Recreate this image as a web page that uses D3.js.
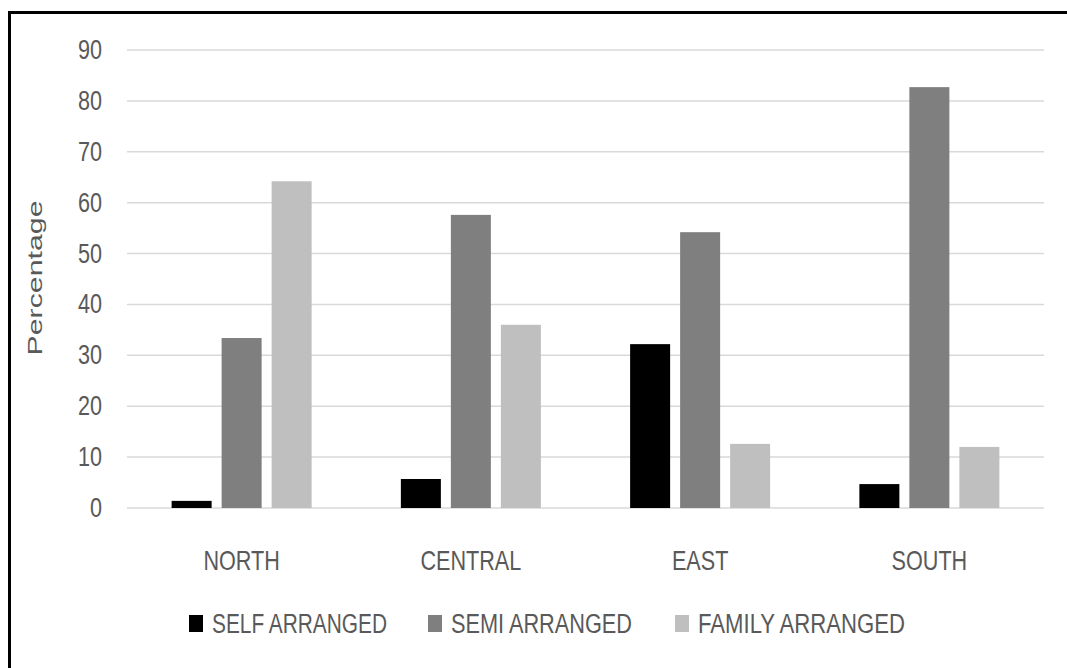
<!DOCTYPE html>
<html>
<head>
<meta charset="utf-8">
<script src="https://cdn.jsdelivr.net/npm/d3@7"></script>
<style>
  body { margin: 0; background: #fff; }
  text { font-family: "Liberation Sans", sans-serif; fill: #595959; }
</style>
</head>
<body>
<svg id="chart"></svg>
<script>
const width = 1067;
const height = 668;

const regions = ["NORTH", "CENTRAL", "EAST", "SOUTH"];
const seriesNames = ["SELF ARRANGED", "SEMI ARRANGED", "FAMILY ARRANGED"];
const selfArranged = [1.4, 5.7, 32.2, 4.7];
const semiArranged = [33.4, 57.6, 54.2, 82.7];
const familyArranged = [64.2, 36.0, 12.6, 12.0];
const yTicks = [0, 10, 20, 30, 40, 50, 60, 70, 80, 90];
const colors = ["#000000", "#7f7f7f", "#bfbfbf"];

const seriesValues = [selfArranged, semiArranged, familyArranged];

const plot = { left: 127, right: 1044, top: 50, bottom: 508 };
const squeeze = 0.8; // the reference text is narrow

const svg = d3.select("#chart").attr("width", width).attr("height", height);

// frame: only top and left edges show
svg.append("line")
  .attr("x1", 8).attr("x2", width)
  .attr("y1", 12.5).attr("y2", 12.5)
  .attr("stroke", "#000").attr("stroke-width", 3);
svg.append("line")
  .attr("x1", 9.5).attr("x2", 9.5)
  .attr("y1", 11).attr("y2", height)
  .attr("stroke", "#000").attr("stroke-width", 3);

const x0 = d3.scaleBand()
  .domain(regions)
  .range([plot.left, plot.right])
  .paddingInner(0.302)
  .paddingOuter(0.151);

const x1 = d3.scaleBand()
  .domain(seriesNames)
  .range([0, x0.bandwidth()])
  .padding(0.2);

const y = d3.scaleLinear().domain([0, 90]).range([plot.bottom, plot.top]);

// gridlines
svg.append("g")
  .selectAll("line")
  .data(yTicks)
  .join("line")
  .attr("x1", plot.left).attr("x2", plot.right)
  .attr("y1", (d) => y(d)).attr("y2", (d) => y(d))
  .attr("stroke", "#d9d9d9").attr("stroke-width", 1.5);

// y tick labels
svg.append("g")
  .selectAll("text")
  .data(yTicks)
  .join("text")
  .attr("transform", (d) => `translate(102,${y(d) + 9}) scale(${squeeze},1)`)
  .attr("text-anchor", "end")
  .style("font-size", "27px")
  .text((d) => d);

// bars
const groups = svg.append("g")
  .selectAll("g")
  .data(regions)
  .join("g")
  .attr("transform", (d) => `translate(${x0(d)},0)`);

groups.selectAll("rect")
  .data((r, i) => seriesNames.map((s, j) => ({ s, v: seriesValues[j][i], j })))
  .join("rect")
  .attr("x", (d) => x1(d.s))
  .attr("width", x1.bandwidth())
  .attr("y", (d) => y(d.v))
  .attr("height", (d) => y(0) - y(d.v))
  .attr("fill", (d) => colors[d.j]);

// category labels
svg.append("g")
  .selectAll("text")
  .data(regions)
  .join("text")
  .attr("transform", (d) => `translate(${x0(d) + x0.bandwidth() / 2},570) scale(${squeeze},1)`)
  .attr("text-anchor", "middle")
  .style("font-size", "27px")
  .text((d) => d);

// axis title
svg.append("text")
  .attr("transform", "translate(42,278) rotate(-90) scale(1,0.85)")
  .attr("text-anchor", "middle")
  .attr("textLength", 155)
  .attr("lengthAdjust", "spacingAndGlyphs")
  .style("font-size", "24px")
  .text("Percentage");

// legend
const legendX = [189, 428, 675];
const legendW = [175, 181, 207];
const legend = svg.append("g")
  .selectAll("g")
  .data(seriesNames)
  .join("g")
  .attr("transform", (d, i) => `translate(${legendX[i]},0)`);

legend.append("rect")
  .attr("x", 0).attr("y", 615)
  .attr("width", 14).attr("height", 17)
  .attr("fill", (d, i) => colors[i]);

legend.append("text")
  .attr("x", 23)
  .attr("y", 633)
  .attr("textLength", (d, i) => legendW[i])
  .attr("lengthAdjust", "spacingAndGlyphs")
  .style("font-size", "27px")
  .text((d) => d);
</script>
</body>
</html>
